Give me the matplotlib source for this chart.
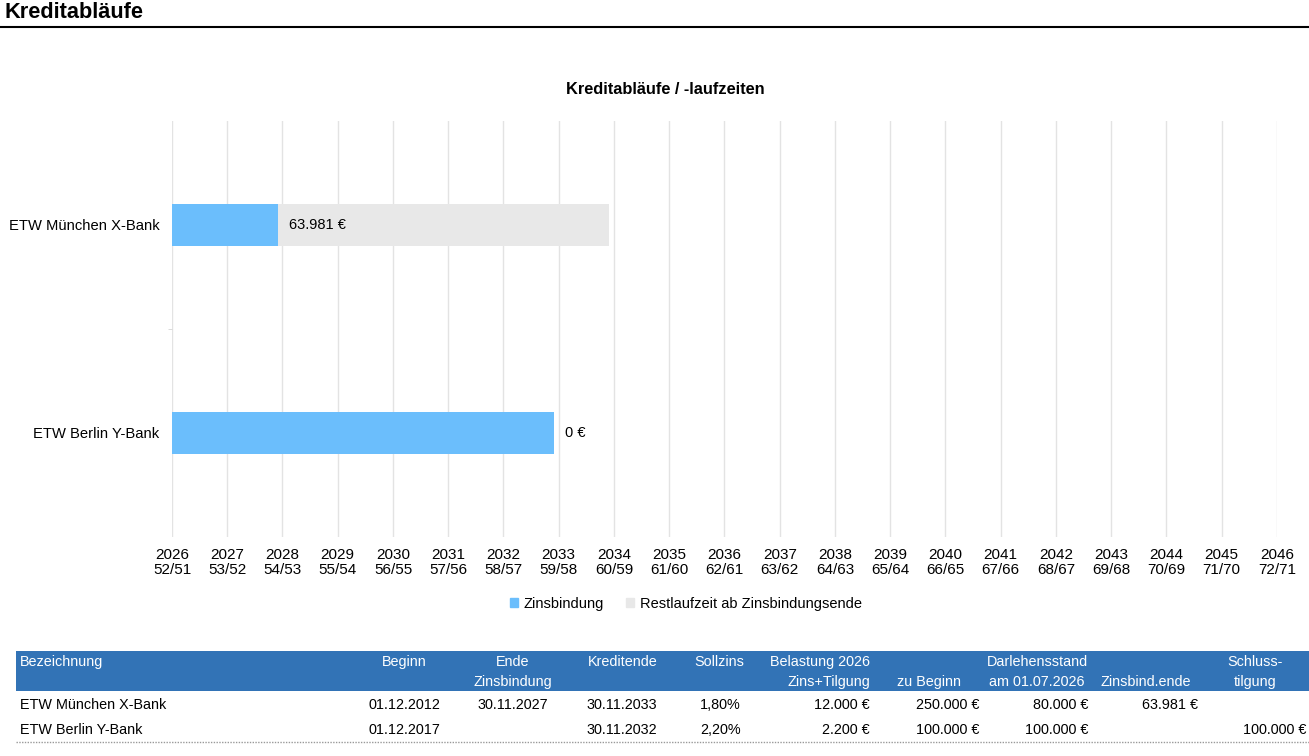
import matplotlib.pyplot as plt
from matplotlib.patches import Rectangle, Patch

plt.rcParams['font.family'] = ['Liberation Sans', 'DejaVu Sans']

# chart data
loans = ['ETW München X-Bank', 'ETW Berlin Y-Bank']
zins_end = ['30.11.2027', '30.11.2032']
kredit_end = ['30.11.2033', '30.11.2032']
rest_labels = ['63.981 €', '0 €']
years = list(range(2026, 2047))
birth_years = [1974, 1975]

# table data
beginn = ['01.12.2012', '01.12.2017']
ende_zb = ['30.11.2027', '']
kreditende = ['30.11.2033', '30.11.2032']
sollzins = ['1,80%', '2,20%']
belastung = ['12.000 €', '2.200 €']
zu_beginn = ['250.000 €', '100.000 €']
stand_2026 = ['80.000 €', '100.000 €']
zinsbind_ende = ['63.981 €', '']
schluss = ['', '100.000 €']

BLUE = '#6bbefc'
GREY = '#e8e8e8'
HEAD = '#3273b6'
W, H = 1309, 756


def to_year(s):
    d, m, y = map(int, s.split('.'))
    return y + (m - 1) / 12 + d / 365


fig = plt.figure(figsize=(W / 100, H / 100), dpi=100)

# --- bar chart ---
ax = fig.add_axes([172 / W, 1 - 537 / H, (1277 - 172) / W, (537 - 121) / H])
start = years[0]
for i, name in enumerate(loans):
    ze = to_year(zins_end[i])
    ke = to_year(kredit_end[i])
    ax.barh(i, ze - start, left=start, height=0.2, color=BLUE, zorder=2)
    if ke > ze:
        ax.barh(i, ke - ze, left=ze, height=0.2, color=GREY, zorder=2)
    ax.text(ze + 0.2, i, rest_labels[i], va='center', ha='left', fontsize=10.5, zorder=3)

ax.set_xlim(years[0], years[-1])
ax.set_ylim(1.5, -0.5)
ax.set_xticks(years)
ax.set_xticklabels([f'{y}\n{y - birth_years[0]}/{y - birth_years[1]}' for y in years],
                   fontsize=11, linespacing=1.1)
ax.set_yticks(range(len(loans)))
ax.set_yticklabels(loans, fontsize=10.6)
ax.set_yticks([0.5], minor=True)
ax.tick_params(axis='x', length=0, pad=8)
ax.tick_params(axis='y', which='major', length=0, pad=9)
ax.tick_params(axis='y', which='minor', length=3, color='#d5d5d5')
ax.grid(axis='x', color='#e3e3e3', lw=1, zorder=0)
for s in ax.spines.values():
    s.set_visible(False)

fig.text(665 / W, 1 - 90 / H, 'Kreditabläufe / -laufzeiten', ha='center', va='center',
         fontsize=11.8, fontweight='bold')

fig.legend(handles=[Patch(color=BLUE, label='Zinsbindung'),
                    Patch(color=GREY, label='Restlaufzeit ab Zinsbindungsende')],
           loc='center', bbox_to_anchor=(686 / W, 1 - 604 / H), ncol=2, frameon=False,
           fontsize=10.5, handlelength=0.55, handleheight=0.55, handletextpad=0.4,
           columnspacing=1.5)

# --- page heading and table (pixel overlay) ---
ov = fig.add_axes([0, 0, 1, 1], zorder=-1)
ov.set_xlim(0, W)
ov.set_ylim(H, 0)
ov.axis('off')

ov.text(5, 13, 'Kreditabläufe', fontsize=15.7, fontweight='bold', va='center', ha='left')
ov.plot([0, W], [26.5, 26.5], color='black', lw=1.5)

ov.add_patch(Rectangle((16, 651), W - 16, 40, color=HEAD, lw=0))
head = [
    (20, 'left', 'Bezeichnung', ''),
    (404, 'center', 'Beginn', ''),
    (513, 'center', 'Ende', 'Zinsbindung'),
    (623, 'center', 'Kreditende', ''),
    (719, 'center', 'Sollzins', ''),
    (870, 'right', 'Belastung 2026', 'Zins+Tilgung'),
    (929, 'center', '', 'zu Beginn'),
    (1037, 'center', 'Darlehensstand', 'am 01.07.2026'),
    (1146, 'center', '', 'Zinsbind.ende'),
    (1255, 'center', 'Schluss-', 'tilgung'),
]
for x, ha, l1, l2 in head:
    if l1:
        ov.text(x, 662, l1, color='white', fontsize=10.4, ha=ha, va='center')
    if l2:
        ov.text(x, 682, l2, color='white', fontsize=10.4, ha=ha, va='center')

cols = [
    (20, 'left', loans),
    (404, 'center', beginn),
    (513, 'center', ende_zb),
    (622, 'center', kreditende),
    (741, 'right', sollzins),
    (870, 'right', belastung),
    (979, 'right', zu_beginn),
    (1088, 'right', stand_2026),
    (1198, 'right', zinsbind_ende),
    (1306, 'right', schluss),
]
row_y = [705, 730]
for x, ha, vals in cols:
    for y, v in zip(row_y, vals):
        ov.text(x, y, v, fontsize=10.4, ha=ha, va='center')
ov.plot([16, W], [742, 742], color='#999999', lw=1, ls=(0, (1, 1)))

fig.savefig('out.png', dpi=100)
